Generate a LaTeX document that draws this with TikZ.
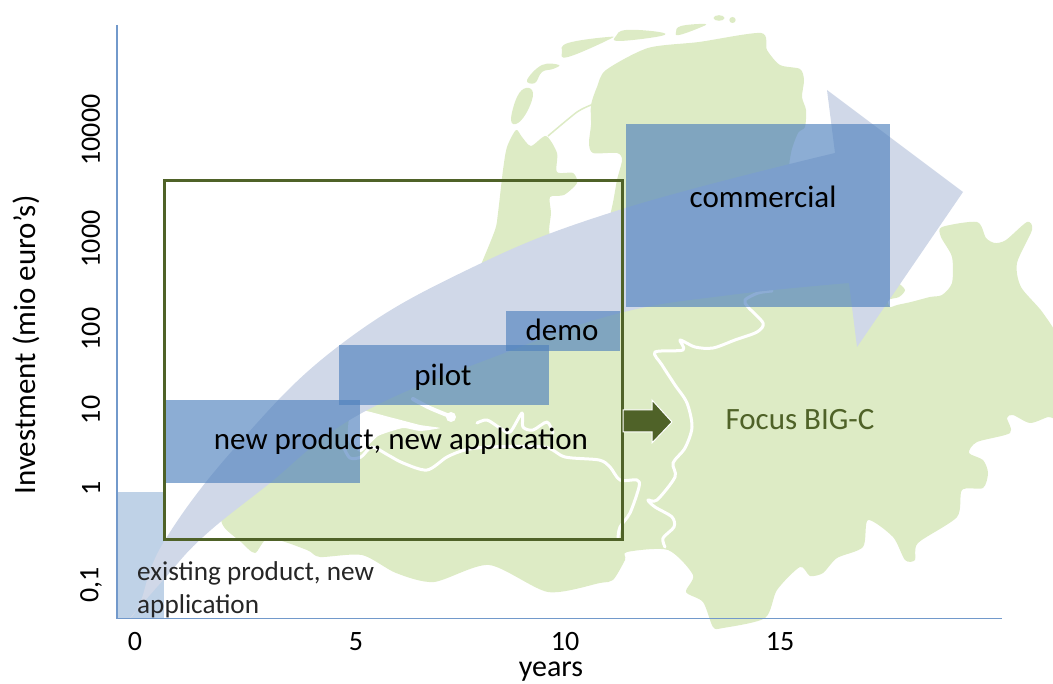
\documentclass[tikz,border=0pt]{standalone}
\usepackage{fontspec}
\setmainfont{Carlito}
\definecolor{land}{HTML}{DDEBC5}
\definecolor{flow}{HTML}{D0D8E8}
\definecolor{stage}{HTML}{4F81BD}
\definecolor{olive}{HTML}{4F6228}
\definecolor{axisblue}{HTML}{7299CB}
\tikzset{
  landfill/.style={fill=land,draw=none},
  river/.style={draw=white,line width=3pt,line cap=round,line join=round},
  stagebox/.style={fill=stage,fill opacity=.65,draw=none},
  lab/.style={inner sep=0pt,text=black,font=\fontsize{31}{31}\selectfont},
  tick/.style={inner sep=0pt,text=black,font=\fontsize{28}{28}\selectfont},
  small/.style={inner sep=0pt,text=black!85,anchor=west,font=\fontsize{27.2}{27.2}\selectfont},
}
\begin{document}
\begin{tikzpicture}[x=1pt,y=-1pt]
\useasboundingbox (0,0) rectangle (1053,684);
\begin{scope}
\clip (0,0) rectangle (1053,684);
% mainland
\fill[landfill] plot[smooth cycle,tension=.45] coordinates {
 (224,513)(262,460)(300,430)(400,340)(470,290)(480,267)(495,230)(498,213)(503,170)(507,147)(516,130)
 (522,137)(531,146)(546,136)(557,153)(557,172)(573,173)(577,183)(564,195)(550,197)(551,213)(550,235)
 (570,250)(605,225)(612,207)(617,180)(622,160)(617,153)(593,153)(589,143)(591,125)(591,105)
 (597,87)(606,70)(648,48)(699,42)(761,33)(767,50)(780,65)(800,69)(804,80)(802,97)(806,110)(805,127)(798,133)(791,153)(792,175)
 (830,210)(880,272)(897,282)(905,290)(899,297)(888,300)(890,307)(897,305)(911,302)(930,297)(942,295)(952,283)(952,257)(941,237)(942,227)(977,222)
 (986,238)(995,243)(1006,240)(1027,222)(1032,230)(1017,263)(1021,287)(1043,313)(1060,345)(1060,415)(1048,417)(1030,423)(1013,415)(1007,418)
 (1010,433)(977,442)(969,453)(983,460)(988,473)(983,488)(962,490)(957,517)(918,543)(915,560)(905,560)(893,537)(868,520)(863,547)
 (837,558)(823,573)(810,576)(800,567)(777,590)(765,618)(723,628)(713,627)(703,602)(686,592)(693,575)(668,550)(627,552)(625,560)(613,580)(600,583)
 (548,592)(489,565)(434,582)(396,573)(362,555)(320,557)(307,550)(269,538)(255,553)(241,542)(224,527)
};
% islands
\fill[landfill] plot[smooth cycle,tension=.7] coordinates {(511,120)(517,97)(526,88)(533,93)(528,110)(518,123)};
\fill[landfill] plot[smooth cycle,tension=.7] coordinates {(527,80)(542,65)(559,65)(553,69)(542,72)(535,83)};
\fill[landfill] plot[smooth cycle,tension=.7] coordinates {(562,52)(568,43)(608,37)(608,40)(568,57)};
\fill[landfill] plot[smooth cycle,tension=.7] coordinates {(616,36)(626,30)(659,32)(661,36)(619,41)};
\fill[landfill] plot[smooth cycle,tension=.7] coordinates {(676,32)(681,26)(705,24)(699,28)(679,35)};
\fill[landfill] (719,18) ellipse [x radius=5.5,y radius=2.8];
\fill[landfill] (732.5,20) ellipse [x radius=3.2,y radius=3];
\draw[land,line width=1.5pt] plot[smooth,tension=.4] coordinates {(548,136)(577,112)(591,105)};
% rivers
\draw[river] plot[smooth,tension=.5] coordinates {(772,291)(758,293)(745,300)(748,307)(763,323)(757,332)(735,340)(713,348)(695,347)(680,340)(683,350)(655,352)(662,365)(675,385)(687,403)(692,427)(685,448)(673,463)(675,477)(657,500)(648,500)(655,507)(672,517)(674,527)(663,538)(665,547)};
\fill[white] plot[smooth cycle,tension=.3] coordinates {(352,409)(393,418)(420,425)(440,428)(420,431)(403,428)(378,436)(361,452)(348,440)};
\draw[river,line width=4pt] plot[smooth,tension=.5] coordinates {(413,399)(430,408)(452,417)};
\fill[white] (451,417) circle (5);
\draw[river] plot[smooth,tension=.5] coordinates {(344,448)(350,458)(361,457)(372,447)(388,455)(403,463)(427,470)(447,457)(465,450)(489,447)(544,447)(565,457)(599,460)(610,467)(620,480)(637,480)(639,487)(630,513)(620,527)(618,538)};
\draw[river] plot[smooth,tension=.5] coordinates {(477,423)(487,420)(500,428)(510,432)(522,413)(523,427)(533,430)(547,422)(553,433)};
\end{scope}
% existing rectangle and flow arrow
\fill[stage,fill opacity=.36] (117,492) rectangle (164,618);
\fill[flow] plot[smooth,tension=.7] coordinates {(130,618)(140,603)(165,540)(240,442)(340,345)(467,270)(619,210)(835,153)}
  -- (827,90) -- (963,192) -- (857,347) -- (849,283)
  -- plot[smooth,tension=.7] coordinates {(849,283)(730,295)(620,313)(507,352)(360,414)(265,487)(203,537)(165,578)(130,618)} -- cycle;
% stages
\fill[stagebox] (164,400) rectangle (360,483);
\fill[stagebox] (339,345) rectangle (549,405);
\fill[stagebox] (506,311) rectangle (620,351);
\fill[stagebox] (626,124) rectangle (890,307);
% focus box and arrow
\draw[olive,line width=3pt] (164,181) rectangle (622,540);
\draw[fill=olive,draw=white,line width=1pt] (623,410) -- (652,410) -- (652,400) -- (672,422) -- (652,443) -- (652,432) -- (623,432) -- cycle;
% axes
\draw[axisblue,line width=1.3pt] (117,25) -- (117,618.5) -- (1002,618.5);
% labels
\node[lab] (commercial) at (763,197) {commercial};
\node[lab] (demo) at (562,330) {demo};
\node[lab] (pilot) at (443,377) {pilot};
\node[lab] (newprod) at (401,441) {new product, new application};
\node[lab,text=olive] (focus) at (800,420) {Focus BIG-C};
\node[small] (ex1) at (137,573) {existing product, new};
\node[small] (ex2) at (137,606) {application};
\node[tick] (x0) at (135,642) {0};
\node[tick] (x5) at (356,642) {5};
\node[tick] (x10) at (565,642) {10};
\node[tick] (x15) at (780,642) {15};
\node[inner sep=0pt,font=\fontsize{30}{30}\selectfont] (xlab) at (551,671.5) {years};
\node[tick,rotate=90] (y0) at (91,585) {0,1};
\node[tick,rotate=90] (y1) at (91,488) {1};
\node[tick,rotate=90] (y10) at (91,410) {10};
\node[tick,rotate=90] (y100) at (91,329) {100};
\node[tick,rotate=90] (y1000) at (91,239) {1000};
\node[tick,rotate=90] (y10000) at (91,130) {10000};
\node[lab,rotate=90] (ylab) at (26,345) {Investment (mio euro’s)};
\end{tikzpicture}
\end{document}
